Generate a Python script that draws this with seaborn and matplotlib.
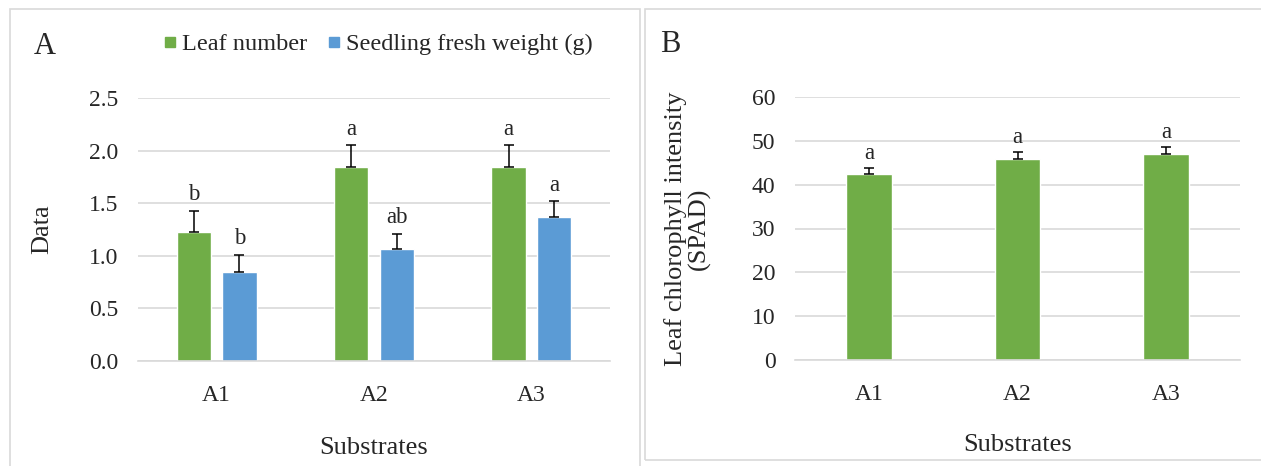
import matplotlib
matplotlib.use("Agg")
import matplotlib.pyplot as plt
from matplotlib.lines import Line2D
from matplotlib.patches import Rectangle
import numpy as np
import pandas as pd
import seaborn as sns

# ---- data -------------------------------------------------------------
substrates = ["A1", "A2", "A3"]
leaf_number = [1.23, 1.84, 1.84]
leaf_number_se = [0.20, 0.21, 0.21]
leaf_number_sig = ["b", "a", "a"]
fresh_weight = [0.85, 1.06, 1.37]
fresh_weight_se = [0.16, 0.15, 0.15]
fresh_weight_sig = ["b", "ab", "a"]
spad = [42.4, 45.9, 47.0]
spad_se = [1.3, 1.5, 1.6]
spad_sig = ["a", "a", "a"]
series_names = ["Leaf number", "Seedling fresh weight (g)"]
ticks_a = [0.0, 0.5, 1.0, 1.5, 2.0, 2.5]
ticks_b = [0, 10, 20, 30, 40, 50, 60]

GREEN = "#70AD47"
BLUE = "#5B9BD5"
GRID = "#D9D9D9"
TEXT = "#262626"

sns.set_theme(style="white")
plt.rcParams["font.family"] = ["Liberation Serif", "DejaVu Serif"]
plt.rcParams["text.color"] = TEXT
plt.rcParams["axes.labelcolor"] = TEXT
plt.rcParams["xtick.color"] = TEXT
plt.rcParams["ytick.color"] = TEXT

W, H = 1261, 466
fig = plt.figure(figsize=(W / 100, H / 100), dpi=100)


def px_axes(left, top, right, bottom):
    return fig.add_axes([left / W, 1 - bottom / H, (right - left) / W, (bottom - top) / H])


# panel frames
fig.patches.append(Rectangle((10 / W, -0.05), 630 / W, 1.05 - 9 / H, transform=fig.transFigure,
                             fill=False, edgecolor=GRID, linewidth=1.2))
fig.patches.append(Rectangle((645 / W, 1 - 460 / H), 640 / W, (460 - 9) / H, transform=fig.transFigure,
                             fill=False, edgecolor=GRID, linewidth=1.2))

FS_TICK = 17
FS_LAB = 19
FS_SIG = 16.5
FS_LEG = 17.5
FS_PANEL = 22

# ---- panel A ----------------------------------------------------------
ax_a = px_axes(138, 98, 610, 361)
df_a = pd.DataFrame({
    "Substrates": substrates * 2,
    "value": leaf_number + fresh_weight,
    "series": [series_names[0]] * 3 + [series_names[1]] * 3,
})
sns.barplot(data=df_a, x="Substrates", y="value", hue="series", order=substrates,
            hue_order=series_names, palette=[GREEN, BLUE], width=0.58, gap=0.25,
            errorbar=None, legend=False, saturation=1, ax=ax_a)

for cont, vals, ses, sigs in zip(ax_a.containers,
                                 [leaf_number, fresh_weight],
                                 [leaf_number_se, fresh_weight_se],
                                 [leaf_number_sig, fresh_weight_sig]):
    xs = [b.get_x() + b.get_width() / 2 for b in cont]
    ax_a.errorbar(xs, vals, yerr=[np.zeros(len(ses)), ses], fmt="none",
                  ecolor="black", elinewidth=1.1, capsize=3.5, capthick=1.1, zorder=4)
    for x, v, s, t in zip(xs, vals, ses, sigs):
        ax_a.annotate(t, (x, v + s), xytext=(0, 4), textcoords="offset points",
                      ha="center", va="bottom", fontsize=FS_SIG, color=TEXT)

ax_a.set_xlim(-0.5, len(substrates) - 0.5)
ax_a.set_ylim(0, 2.5)
ax_a.set_yticks(ticks_a)
ax_a.set_yticklabels([f"{t:.1f}" for t in ticks_a])
ax_a.set_ylabel("Data", fontsize=FS_LAB)
ax_a.set_xlabel("Substrates", fontsize=FS_LAB)
ax_a.yaxis.set_label_coords(-0.18, 0.5)
ax_a.xaxis.set_label_coords(0.5, -0.29)

# legend above panel A
handles = [Line2D([], [], marker="s", linestyle="none", markersize=7,
                  markerfacecolor=c, markeredgecolor=c) for c in (GREEN, BLUE)]
fig.legend(handles, series_names, loc="center", bbox_to_anchor=(378 / W, 1 - 44 / H),
           ncol=2, frameon=False, fontsize=FS_LEG, handlelength=0.6, handletextpad=0.2,
           columnspacing=0.8, borderaxespad=0)
fig.text(45 / W, 1 - 46 / H, "A", fontsize=FS_PANEL, ha="center", va="center", color=TEXT)

# ---- panel B ----------------------------------------------------------
ax_b = px_axes(795, 97, 1240, 360)
df_b = pd.DataFrame({"Substrates": substrates, "value": spad})
sns.barplot(data=df_b, x="Substrates", y="value", order=substrates, color=GREEN,
            width=0.31, errorbar=None, saturation=1, ax=ax_b)
bars = ax_b.containers[0]
xs = [b.get_x() + b.get_width() / 2 for b in bars]
ax_b.errorbar(xs, spad, yerr=[np.zeros(len(spad_se)), spad_se], fmt="none",
              ecolor="black", elinewidth=1.1, capsize=3.5, capthick=1.1, zorder=4)
for x, v, s, t in zip(xs, spad, spad_se, spad_sig):
    ax_b.annotate(t, (x, v + s), xytext=(0, 3), textcoords="offset points",
                  ha="center", va="bottom", fontsize=FS_SIG, color=TEXT)

ax_b.set_xlim(-0.5, len(substrates) - 0.5)
ax_b.set_ylim(0, 60)
ax_b.set_yticks(ticks_b)
ax_b.set_yticklabels([str(t) for t in ticks_b])
ax_b.set_ylabel("Leaf chlorophyll intensity\n(SPAD)", fontsize=FS_LAB, linespacing=1.0)
ax_b.set_xlabel("Substrates", fontsize=FS_LAB)
ax_b.yaxis.set_label_coords(-0.19, 0.5)
ax_b.xaxis.set_label_coords(0.5, -0.28)
fig.text(670 / W, 1 - 45 / H, "B", fontsize=FS_PANEL, ha="center", va="center", color=TEXT)

for ax in (ax_a, ax_b):
    ax.yaxis.grid(True, color=GRID, linewidth=1.2)
    ax.set_axisbelow(True)
    for side in ("top", "right", "left"):
        ax.spines[side].set_visible(False)
    ax.spines["bottom"].set_color(GRID)
    ax.spines["bottom"].set_linewidth(1.2)
    ax.tick_params(axis="both", length=0, labelsize=FS_TICK)
    ax.tick_params(axis="y", pad=14)
    ax.tick_params(axis="x", pad=17)
    ax.set_facecolor("none")

fig.savefig("out.png", dpi=100, facecolor="white")
